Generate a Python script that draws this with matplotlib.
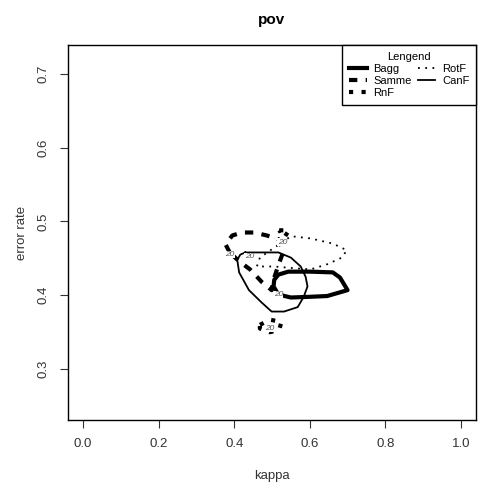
import numpy as np
import matplotlib.pyplot as plt

plt.rcParams['font.family'] = ['Liberation Sans', 'DejaVu Sans']

nan = np.nan

# contour lines (level 20), in data units (kappa, error rate)
bagg_x = [0.517, 0.550, 0.602, 0.646, 0.700, 0.680, 0.661, 0.602, 0.543, 0.517, 0.506, 0.504, 0.517]
bagg_y = [0.401, 0.397, 0.398, 0.399, 0.407, 0.424, 0.431, 0.432, 0.432, 0.428, 0.421, 0.412, 0.401]

samme_x = [0.388, 0.377, 0.395, 0.421, 0.452, 0.486, 0.517, 0.530, 0.517, 0.504, 0.499, 0.473, 0.442, 0.413, 0.388]
samme_y = [0.458, 0.469, 0.481, 0.485, 0.485, 0.481, 0.476, 0.459, 0.441, 0.421, 0.407, 0.418, 0.435, 0.446, 0.458]

rnf_x = [0.519, 0.545, 0.532, 0.519, nan, 0.468, 0.494, 0.525, 0.519, 0.494, 0.468, 0.468]
rnf_y = [0.488, 0.488, 0.478, 0.488, nan, 0.360, 0.367, 0.364, 0.353, 0.350, 0.355, 0.360]

rotf_x = [0.525, 0.550, 0.602, 0.661, 0.698, 0.685, 0.646, 0.602, 0.550, 0.506, 0.460, 0.468, 0.499, 0.525]
rotf_y = [0.471, 0.480, 0.477, 0.470, 0.461, 0.451, 0.442, 0.435, 0.437, 0.439, 0.439, 0.451, 0.462, 0.471]

canf_x = [0.429, 0.455, 0.517, 0.550, 0.576, 0.589, 0.594, 0.584, 0.568, 0.532, 0.499, 0.473, 0.439, 0.413, 0.408, 0.416, 0.429]
canf_y = [0.458, 0.458, 0.458, 0.451, 0.439, 0.425, 0.412, 0.398, 0.384, 0.378, 0.378, 0.390, 0.407, 0.431, 0.448, 0.455, 0.458]

# where the "20" contour labels sit
label_x = [0.388, 0.440, 0.517, 0.494, 0.527]
label_y = [0.455, 0.452, 0.401, 0.355, 0.472]

names = ['Bagg', 'Samme', 'RnF', 'RotF', 'CanF']

fig = plt.figure(figsize=(4.9, 4.98), dpi=100)
ax = fig.add_axes([68 / 490, 1 - 420 / 498, 408 / 490, 375 / 498])

ax.plot(bagg_x, bagg_y, color='black', lw=3, ls='-', label=names[0])
ax.plot(samme_x, samme_y, color='black', lw=3, ls=(0, (2, 2)), label=names[1])
ax.plot(rnf_x, rnf_y, color='black', lw=3, ls=(0, (1, 2)), label=names[2])
ax.plot(rotf_x, rotf_y, color='black', lw=1.3, ls=(0, (1, 3)), label=names[3])
ax.plot(canf_x, canf_y, color='black', lw=1.3, ls='-', label=names[4])

for lx, ly in zip(label_x, label_y):
    ax.text(lx, ly, '20', fontsize=6, color='#555555', style='italic',
            ha='center', va='center',
            bbox=dict(facecolor='white', edgecolor='none', pad=0.2))

ax.set_xlim(-0.04, 1.04)
ax.set_ylim(0.2312, 0.7388)
ax.set_xticks([0.0, 0.2, 0.4, 0.6, 0.8, 1.0])
ax.set_xticklabels(['0.0', '0.2', '0.4', '0.6', '0.8', '1.0'])
ax.set_yticks([0.3, 0.4, 0.5, 0.6, 0.7])
ax.set_yticklabels(['0.3', '0.4', '0.5', '0.6', '0.7'], rotation=90, va='center')
ax.tick_params(direction='out', length=6, labelsize=9.5, pad=7, color='#333333', labelcolor='#333333')
for s in ax.spines.values():
    s.set_linewidth(1)

ax.set_title('pov', fontsize=11, fontweight='bold', pad=15)
ax.set_xlabel('kappa', fontsize=9.5, labelpad=14, color='#333333')
ax.set_ylabel('error rate', fontsize=9.5, labelpad=7, color='#333333')

leg = ax.legend(loc='upper right', ncol=2, title='Lengend', fontsize=8, title_fontsize=8,
                frameon=True, fancybox=False, edgecolor='black', framealpha=1,
                borderaxespad=0, handlelength=1.6, handletextpad=0.6, columnspacing=0.5,
                labelspacing=0.2, borderpad=0.6)
leg.get_frame().set_linewidth(1)

fig.savefig('out.png', dpi=100)
